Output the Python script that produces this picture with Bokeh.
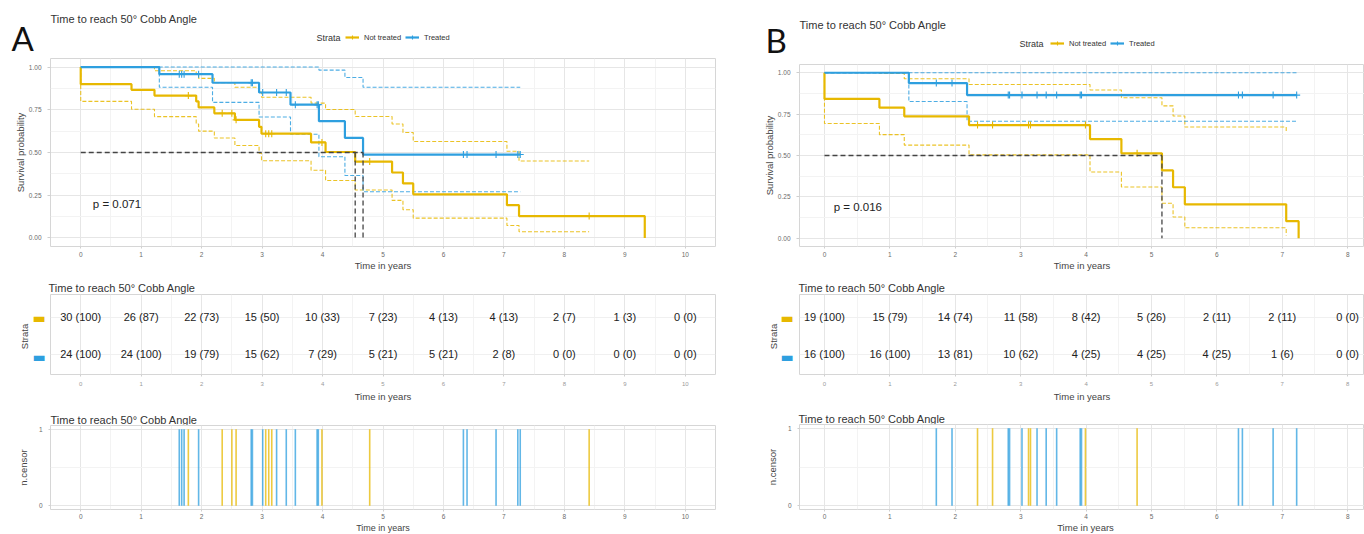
import numpy as np
from bokeh.plotting import figure
from bokeh.models import Label, FixedTicker, Legend, LegendItem, Range1d, NumeralTickFormatter
from bokeh.layouts import row, column
from bokeh.embed import file_html
from bokeh.resources import INLINE
from bokeh.core.properties import value

# ---------------- DATA ----------------
strata = ["Not treated", "Treated"]
colors = ["#E7B800", "#2E9FDF"]
title_text = "Time to reach 50° Cobb Angle"

# Panel A : Kaplan-Meier steps (years, survival probability)
A_nt_time = [0, 0, 0.84, 1.22, 1.91, 1.95, 2.21, 2.55, 2.95, 2.99, 3.81, 4.05, 4.54, 5.15, 5.33, 5.50, 7.05, 7.25, 9.33]
A_nt_surv = [1.0, 0.900, 0.867, 0.833, 0.799, 0.764, 0.729, 0.691, 0.650, 0.610, 0.559, 0.503, 0.447, 0.383, 0.319, 0.255, 0.192, 0.128, 0.0]
A_nt_ci_time = [0, 0, 0.84, 1.22, 1.91, 1.95, 2.21, 2.55, 2.95, 2.99, 3.81, 4.05, 4.54, 5.15, 5.33, 5.50, 7.05, 7.25, 8.41]
A_nt_upper = [1.0, 1.0, 0.997, 0.978, 0.957, 0.934, 0.909, 0.882, 0.853, 0.823, 0.789, 0.752, 0.711, 0.667, 0.617, 0.564, 0.507, 0.450, 0.450]
A_nt_lower = [1.0, 0.799, 0.753, 0.710, 0.667, 0.625, 0.585, 0.541, 0.496, 0.452, 0.396, 0.336, 0.281, 0.220, 0.165, 0.116, 0.073, 0.036, 0.036]
A_nt_censor = [1.78, 2.34, 2.50, 2.57, 3.06, 3.11, 3.16, 3.99, 4.78, 8.41]
A_nt_ncensor = [1, 1, 1, 1, 1, 1, 1, 1, 1, 1]

A_t_time = [0, 1.30, 2.18, 2.95, 3.47, 3.94, 4.37, 4.67, 7.27]
A_t_surv = [1.0, 0.958, 0.908, 0.851, 0.780, 0.683, 0.585, 0.488, 0.488]
A_t_ci_time = [0, 1.30, 2.18, 2.95, 3.47, 3.94, 4.37, 4.67, 7.27]
A_t_upper = [1.0, 1.0, 1.0, 1.0, 1.0, 0.982, 0.939, 0.882, 0.882]
A_t_lower = [1.0, 0.882, 0.793, 0.708, 0.607, 0.475, 0.365, 0.270, 0.270]
A_t_censor = [1.63, 1.67, 1.71, 1.95, 2.82, 2.84, 3.01, 3.24, 3.40, 3.55, 3.91, 3.93, 6.33, 6.39, 6.87, 7.23, 7.27]
A_t_ncensor = [1, 1, 1, 1, 1, 1, 1, 1, 1, 1, 1, 1, 1, 1, 1, 1, 1]

A_median = [4.54, 4.67]
A_pval = "p = 0.071"
A_pval_xy = (0.2, 0.2)
A_ticks = [0, 1, 2, 3, 4, 5, 6, 7, 8, 9, 10]
A_risk_nt = ["30 (100)", "26 (87)", "22 (73)", "15 (50)", "10 (33)", "7 (23)", "4 (13)", "4 (13)", "2 (7)", "1 (3)", "0 (0)"]
A_risk_t = ["24 (100)", "24 (100)", "19 (79)", "15 (62)", "7 (29)", "5 (21)", "5 (21)", "2 (8)", "0 (0)", "0 (0)", "0 (0)"]

# Panel B
B_nt_time = [0, 0, 0.84, 1.22, 2.21, 4.06, 4.54, 5.16, 5.33, 5.51, 7.06, 7.25]
B_nt_surv = [1.0, 0.842, 0.789, 0.737, 0.684, 0.599, 0.513, 0.410, 0.308, 0.205, 0.103, 0.0]
B_nt_ci_time = [0, 0, 0.84, 1.22, 2.21, 4.06, 4.54, 5.16, 5.33, 5.51, 7.06]
B_nt_upper = [1.0, 1.0, 0.996, 0.964, 0.929, 0.896, 0.849, 0.800, 0.739, 0.672, 0.636]
B_nt_lower = [1.0, 0.693, 0.626, 0.563, 0.504, 0.400, 0.310, 0.211, 0.128, 0.063, 0.017]
B_nt_censor = [2.34, 2.57, 3.12, 3.15, 3.99, 4.78]
B_nt_ncensor = [1, 1, 1, 1, 1, 1]

B_t_time = [0, 1.29, 2.18, 7.22]
B_t_surv = [1.0, 0.9375, 0.865, 0.865]
B_t_ci_time = [0, 1.29, 2.18, 7.22]
B_t_upper = [1.0, 1.0, 1.0, 1.0]
B_t_lower = [1.0, 0.826, 0.707, 0.707]
B_t_censor = [1.71, 1.95, 2.81, 2.83, 3.02, 3.25, 3.39, 3.55, 3.91, 3.93, 6.33, 6.39, 6.86, 7.22]
B_t_ncensor = [1, 1, 1, 1, 1, 1, 1, 1, 1, 1, 1, 1, 1, 1]

B_median = [5.16]
B_pval = "p = 0.016"
B_pval_xy = (0.14, 0.19)
B_ticks = [0, 1, 2, 3, 4, 5, 6, 7, 8]
B_risk_nt = ["19 (100)", "15 (79)", "14 (74)", "11 (58)", "8 (42)", "5 (26)", "2 (11)", "2 (11)", "0 (0)"]
B_risk_t = ["16 (100)", "16 (100)", "13 (81)", "10 (62)", "4 (25)", "4 (25)", "4 (25)", "1 (6)", "0 (0)"]

# ---------------- STYLE / HELPERS ----------------
FONT = "Liberation Sans"
TXT = "#333333"
AX_TXT = "#444444"


def no_align(p):
    if "frame_align" in p.properties():
        p.frame_align = False
    return p


def lab(p, x, y, text, size, color=TXT, align="left", baseline="middle", angle=0, font=FONT):
    p.add_layout(Label(x=x, y=y, text=text, text_font=font, text_font_size=size,
                       text_color=color, text_align=align, text_baseline=baseline, angle=angle))


def strip_fig(px0, py0, w, h):
    """Axis-less figure whose data coordinates equal page pixels (for texts and keys)."""
    p = figure(width=w, height=h, x_range=Range1d(px0, px0 + w), y_range=Range1d(py0 + h, py0),
               x_axis_type=None, y_axis_type=None, output_backend="svg", toolbar_location=None,
               min_border_left=0, min_border_right=0, min_border_top=0, min_border_bottom=0)
    p.outline_line_color = None
    p.background_fill_color = "white"
    p.border_fill_color = "white"
    return no_align(p)


def plot_fig(w, h, left, right, top, bottom, xr, yr):
    p = figure(width=w, height=h, x_range=Range1d(*xr), y_range=Range1d(*yr),
               output_backend="svg", toolbar_location=None,
               min_border_left=left, min_border_right=right,
               min_border_top=top, min_border_bottom=bottom)
    p.outline_line_color = "#d6d6d6"
    p.outline_line_width = 1
    p.background_fill_color = "white"
    p.border_fill_color = "white"
    for ax in (p.xaxis[0], p.yaxis[0]):
        ax.axis_line_color = None
        ax.major_tick_line_color = "#cfcfcf"
        ax.major_tick_in = 0
        ax.major_tick_out = 2
        ax.minor_tick_line_color = None
        ax.major_label_text_font = FONT
        ax.major_label_text_color = "#6b6b6b"
        ax.major_label_text_font_size = "6.5px"
        ax.axis_label_text_font = FONT
        ax.axis_label_text_font_style = "normal"
        ax.axis_label_text_font_size = "9.5px"
        ax.axis_label_text_color = AX_TXT
        ax.axis_label_standoff = 1
    p.xgrid.grid_line_color = "#e6e6e6"
    p.ygrid.grid_line_color = "#e6e6e6"
    p.xgrid.minor_grid_line_color = "#f3f3f3"
    p.ygrid.minor_grid_line_color = "#f3f3f3"
    return no_align(p)


def x_ticker(ticks):
    minor = [ticks[0] - 0.5] + [t + 0.5 for t in ticks]
    return FixedTicker(ticks=ticks, minor_ticks=minor)


def step_at(times, surv, pts):
    idx = np.searchsorted(np.array(times), np.array(pts), side="right") - 1
    return [surv[i] for i in idx]


def header_fig(px0, w, h, letter, letter_xy, title_xy, strata_xy, legend_loc):
    p = strip_fig(px0, 0, w, h)
    lab(p, letter_xy[0], letter_xy[1], letter, "33px", color="#111111", baseline="alphabetic",
        font="Lato")
    lab(p, title_xy[0], title_xy[1], title_text, "11px", baseline="alphabetic")
    lab(p, strata_xy[0], strata_xy[1], "Strata", "9px")
    items = []
    for col, name in zip(colors, strata):
        # legend-only renderers (a single undefined point, never visible)
        r1 = p.line(x=[np.nan], y=[np.nan], line_color=col, line_width=2.2)
        r2 = p.scatter(x=[np.nan], y=[np.nan], marker="cross", size=7, line_color=col,
                       line_width=1.1)
        items.append(LegendItem(label=name, renderers=[r1, r2]))
    leg = Legend(items=items, location=legend_loc, orientation="horizontal",
                 glyph_width=14, glyph_height=10, label_height=10, label_standoff=5,
                 spacing=4, padding=0, margin=0, label_text_font=FONT,
                 label_text_font_size="7.5px", label_text_color=TXT,
                 background_fill_alpha=0, border_line_color=None)
    p.add_layout(leg)
    return p


def survival_fig(w, h, left, right, bottom, xr, ticks, groups, medians, pval, pval_xy):
    p = plot_fig(w, h, left, right, 0, bottom, xr, (-0.05, 1.05))
    tk = x_ticker(ticks)
    p.xaxis.ticker = tk
    p.xgrid.ticker = tk
    yt = FixedTicker(ticks=[0, 0.25, 0.5, 0.75, 1.0], minor_ticks=[0.125, 0.375, 0.625, 0.875])
    p.yaxis.ticker = yt
    p.ygrid.ticker = yt
    p.yaxis.formatter = NumeralTickFormatter(format="0.00")
    p.yaxis.major_tick_out = 3
    p.yaxis.major_label_standoff = 5
    p.xaxis.major_label_standoff = 1
    p.xaxis.axis_label = "Time in years"
    p.yaxis.axis_label = "Survival probability"
    p.xaxis.axis_label_standoff = 0
    p.yaxis.axis_label_standoff = 0

    for g, col in zip(groups, colors):
        p.step(g["ci_time"], g["upper"], mode="after", line_color=col, line_width=1.1,
               line_dash="4 2", line_alpha=0.85)
        p.step(g["ci_time"], g["lower"], mode="after", line_color=col, line_width=1.1,
               line_dash="4 2", line_alpha=0.85)
    for g, col in zip(groups, colors):
        p.step(g["time"], g["surv"], mode="after", line_color=col, line_width=2.2)
        cy = step_at(g["time"], g["surv"], g["censor"])
        p.scatter(g["censor"], cy, marker="cross", size=7, line_color=col, line_width=1.1)

    mmax = max(medians)
    p.segment(x0=[0] + list(medians), y0=[0.5] * (len(medians) + 1),
              x1=[mmax] + list(medians), y1=[0.5] + [0] * len(medians),
              line_color="#444444", line_width=1.3, line_dash="5 3")
    lab(p, pval_xy[0], pval_xy[1], pval, "11.5px", color="#222222")
    return p


def risk_fig(w, h, right, bottom, xr, yr, ticks, rows):
    p = plot_fig(w, h, 0, right, 0, bottom, xr, yr)
    tk = x_ticker(ticks)
    p.xaxis.ticker = tk
    p.xgrid.ticker = tk
    p.xaxis.major_label_text_font_size = "6px"
    p.xaxis.major_label_text_color = "#9a9a9a"
    p.xaxis.major_label_standoff = 3
    p.xaxis.axis_label = "Time in years"
    p.xaxis.axis_label_standoff = 2
    p.yaxis.visible = False
    p.ygrid.ticker = FixedTicker(ticks=[0, 1], minor_ticks=[])
    p.ygrid.grid_line_color = "#f0f0f0"
    for vals, yv in zip(rows, [1, 0]):
        p.text(x=ticks[:len(vals)], y=[yv] * len(vals), text=vals, text_font=value(FONT),
               text_font_size="11px", text_align="center", text_baseline="middle",
               text_color="#222222")
    return p


def key_fig(px0, py0, w, h, frame_top, frame_bottom, yr, key_x, strata_x):
    p = strip_fig(px0, py0, w, h)
    for yv, col in zip([1, 0], colors):
        py = frame_top + (yr[1] - yv) / (yr[1] - yr[0]) * (frame_bottom - frame_top)
        lab(p, key_x, py, "\u25ac", "14px", color=col, align="center", font="DejaVu Sans")
    lab(p, strata_x, (frame_top + frame_bottom) / 2, "Strata", "9.5px", color=AX_TXT,
        align="center", angle=np.pi / 2)
    return p


def censor_fig(w, h, left, right, bottom, xr, ticks, groups):
    p = plot_fig(w, h, left, right, 0, bottom, xr, (-0.05, 1.05))
    tk = x_ticker(ticks)
    p.xaxis.ticker = tk
    p.xgrid.ticker = tk
    p.xaxis.major_label_standoff = 0
    yt = FixedTicker(ticks=[0, 1], minor_ticks=[0.5])
    p.yaxis.ticker = yt
    p.ygrid.ticker = yt
    p.yaxis.major_label_standoff = 4
    p.yaxis.axis_label = "n.censor"
    p.yaxis.axis_label_standoff = 7
    for g, col in zip(groups, colors):
        p.segment(x0=g["censor"], y0=[0] * len(g["censor"]), x1=g["censor"], y1=g["ncensor"],
                  line_color=col, line_width=1.6, line_alpha=0.75)
    return p


def title_fig(px0, py0, w, h, x, baseline):
    p = strip_fig(px0, py0, w, h)
    lab(p, x, baseline, title_text, "11px", baseline="alphabetic")
    return p


def xlabel_fig(px0, py0, w, h, x, y, size="9.5px"):
    p = strip_fig(px0, py0, w, h)
    lab(p, x, y, "Time in years", size, color=AX_TXT, align="center")
    return p


A_groups = [
    dict(time=A_nt_time, surv=A_nt_surv, ci_time=A_nt_ci_time, upper=A_nt_upper, lower=A_nt_lower,
         censor=A_nt_censor, ncensor=A_nt_ncensor),
    dict(time=A_t_time, surv=A_t_surv, ci_time=A_t_ci_time, upper=A_t_upper, lower=A_t_lower,
         censor=A_t_censor, ncensor=A_t_ncensor),
]
B_groups = [
    dict(time=B_nt_time, surv=B_nt_surv, ci_time=B_nt_ci_time, upper=B_nt_upper, lower=B_nt_lower,
         censor=B_nt_censor, ncensor=B_nt_ncensor),
    dict(time=B_t_time, surv=B_t_surv, ci_time=B_t_ci_time, upper=B_t_upper, lower=B_t_lower,
         censor=B_t_censor, ncensor=B_t_ncensor),
]

XA = (-0.5, 10.5)
XB = (-0.382, -0.382 + 565 / 65.4)
RY = (-0.54, 1.615)

# ----- column A (x 0..745) -----
hA = header_fig(0, 745, 58, "A", (11, 37), (50, 18.5), (316, 37), (345, 16))
sA = survival_fig(745, 215, 50, 30, 26, XA, A_ticks, A_groups, A_median, A_pval, A_pval_xy)
thA = title_fig(0, 273, 745, 21, 48, 287)
kA = key_fig(0, 294, 50, 110, 294, 378, RY, 38.5, 24)
rA = risk_fig(695, 110, 30, 26, XA, RY, A_ticks, [A_risk_nt, A_risk_t])
tcA = title_fig(0, 404, 745, 21, 50, 419)
cA = censor_fig(745, 96, 50, 30, 11, XA, A_ticks, A_groups)
xA = xlabel_fig(0, 521, 745, 13, 382.5, 527, "9px")

# ----- column B (x 745..1364) -----
hB = header_fig(745, 619, 64, "B", (765, 39), (799, 24), (1019, 43), (305, 16))
sB = survival_fig(619, 209, 54, 0, 26, XB, B_ticks, B_groups, B_median, B_pval, B_pval_xy)
thB = title_fig(745, 273, 619, 21, 798, 287)
kB = key_fig(745, 294, 54, 110, 294, 378, RY, 786.6, 773)
rB = risk_fig(565, 110, 0, 26, XB, RY, B_ticks, [B_risk_nt, B_risk_t])
tcB = title_fig(745, 404, 619, 20, 798, 418)
cB = censor_fig(619, 97, 54, 0, 12, XB, B_ticks, B_groups)
xB = xlabel_fig(745, 521, 619, 13, 1085, 526.5)

colA = column(hA, sA, thA, row(kA, rA), tcA, cA, xA)
colB = column(hB, sB, thB, row(kB, rB), tcB, cB, xB)
layout = row(colA, colB)
open("out.html", "w").write(file_html(layout, INLINE))
